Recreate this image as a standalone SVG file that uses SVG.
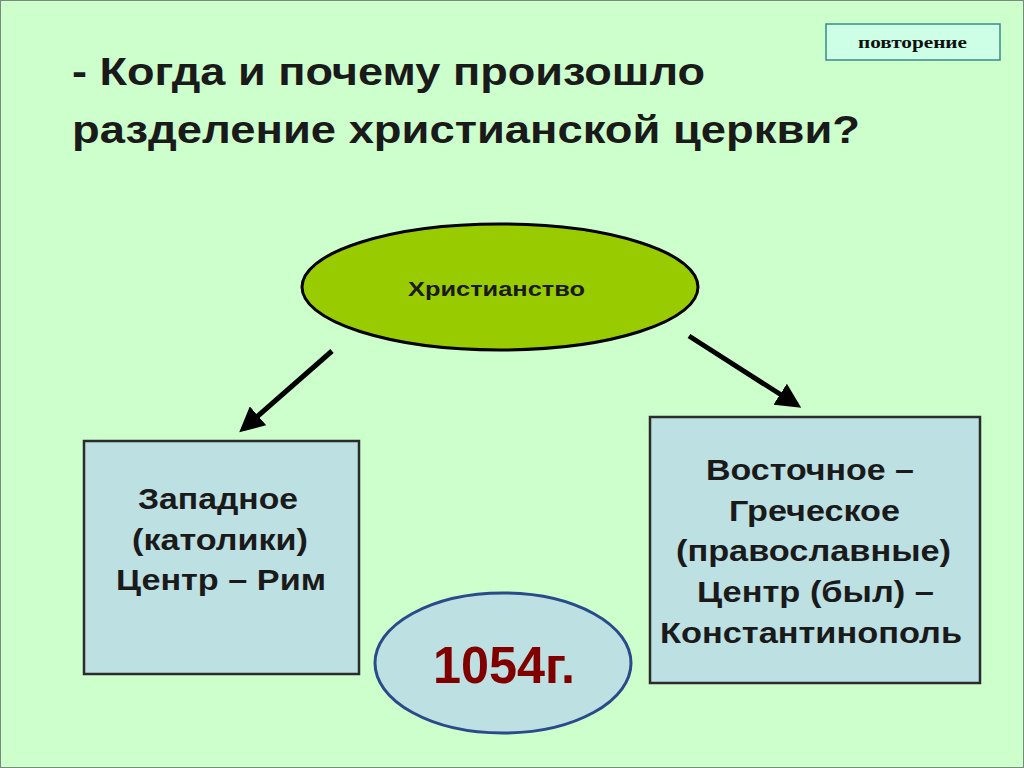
<svg xmlns="http://www.w3.org/2000/svg" width="1024" height="768" viewBox="0 0 1024 768">
<defs>
<style>
.t{font-family:"Liberation Sans",Arial,sans-serif;font-weight:bold;fill:#1a1a1a;}
.c{text-anchor:middle;}
.box{fill:#bde0e3;stroke:#2b2b2b;stroke-width:2.5;}
.arr{stroke:#000;stroke-width:5;fill:none;marker-end:url(#ah);}
</style>
<marker id="ah" viewBox="0 0 10 10" refX="8" refY="5" markerWidth="5" markerHeight="5" orient="auto" markerUnits="strokeWidth">
<path d="M0,0 L10,5 L0,10 z" fill="#000"/>
</marker>
</defs>
<rect x="0" y="0" width="1024" height="768" fill="#ccffcc"/>
<rect x="0.5" y="0.5" width="1023" height="767" fill="none" stroke="#7a8a7a" stroke-width="1"/>
<g id="tag">
<rect x="826" y="24" width="174" height="36" fill="#ccffe6" stroke="#3a8a8a" stroke-width="1.5"/>
<text x="858" y="48" font-family="Liberation Serif,serif" font-weight="bold" font-size="16" fill="#111" textLength="109" lengthAdjust="spacingAndGlyphs">повторение</text>
</g>
<g id="title">
<text class="t" x="72" y="85" font-size="38" textLength="633" lengthAdjust="spacingAndGlyphs">- Когда и почему произошло</text>
<text class="t" x="72" y="143" font-size="38" textLength="788" lengthAdjust="spacingAndGlyphs">разделение христианской церкви?</text>
</g>
<g id="christianity">
<ellipse cx="500" cy="287" rx="198" ry="63" fill="#99cc00" stroke="#000" stroke-width="3"/>
<text class="t" x="408" y="296" font-size="20" textLength="177" lengthAdjust="spacingAndGlyphs">Христианство</text>
</g>
<g id="connectors">
<line class="arr" x1="332" y1="351" x2="243" y2="429"/>
<line class="arr" x1="689" y1="336" x2="797" y2="405"/>
</g>
<g id="west">
<rect class="box" x="84" y="441" width="275" height="233"/>
<text class="t" x="138" y="509" font-size="30" textLength="160" lengthAdjust="spacingAndGlyphs">Западное</text>
<text class="t" x="132" y="550" font-size="30" textLength="176" lengthAdjust="spacingAndGlyphs">(католики)</text>
<text class="t" x="116" y="590" font-size="30" textLength="210" lengthAdjust="spacingAndGlyphs">Центр – Рим</text>
</g>
<g id="east">
<rect class="box" x="650" y="417" width="330" height="266"/>
<text class="t" x="706" y="480" font-size="30" textLength="208" lengthAdjust="spacingAndGlyphs">Восточное –</text>
<text class="t" x="729" y="521" font-size="30" textLength="171" lengthAdjust="spacingAndGlyphs">Греческое</text>
<text class="t" x="676" y="561" font-size="30" textLength="275" lengthAdjust="spacingAndGlyphs">(православные)</text>
<text class="t" x="697" y="602" font-size="30" textLength="237" lengthAdjust="spacingAndGlyphs">Центр (был) –</text>
<text class="t" x="660" y="643" font-size="30" textLength="302" lengthAdjust="spacingAndGlyphs">Константинополь</text>
</g>
<g id="year">
<ellipse cx="503" cy="663" rx="128" ry="70" fill="#bde0e3" stroke="#2a4a8a" stroke-width="3"/>
<text x="433" y="683" font-family="Liberation Sans,Arial,sans-serif" font-weight="bold" font-size="52" fill="#800000" textLength="142" lengthAdjust="spacingAndGlyphs">1054г.</text>
</g>
</svg>
